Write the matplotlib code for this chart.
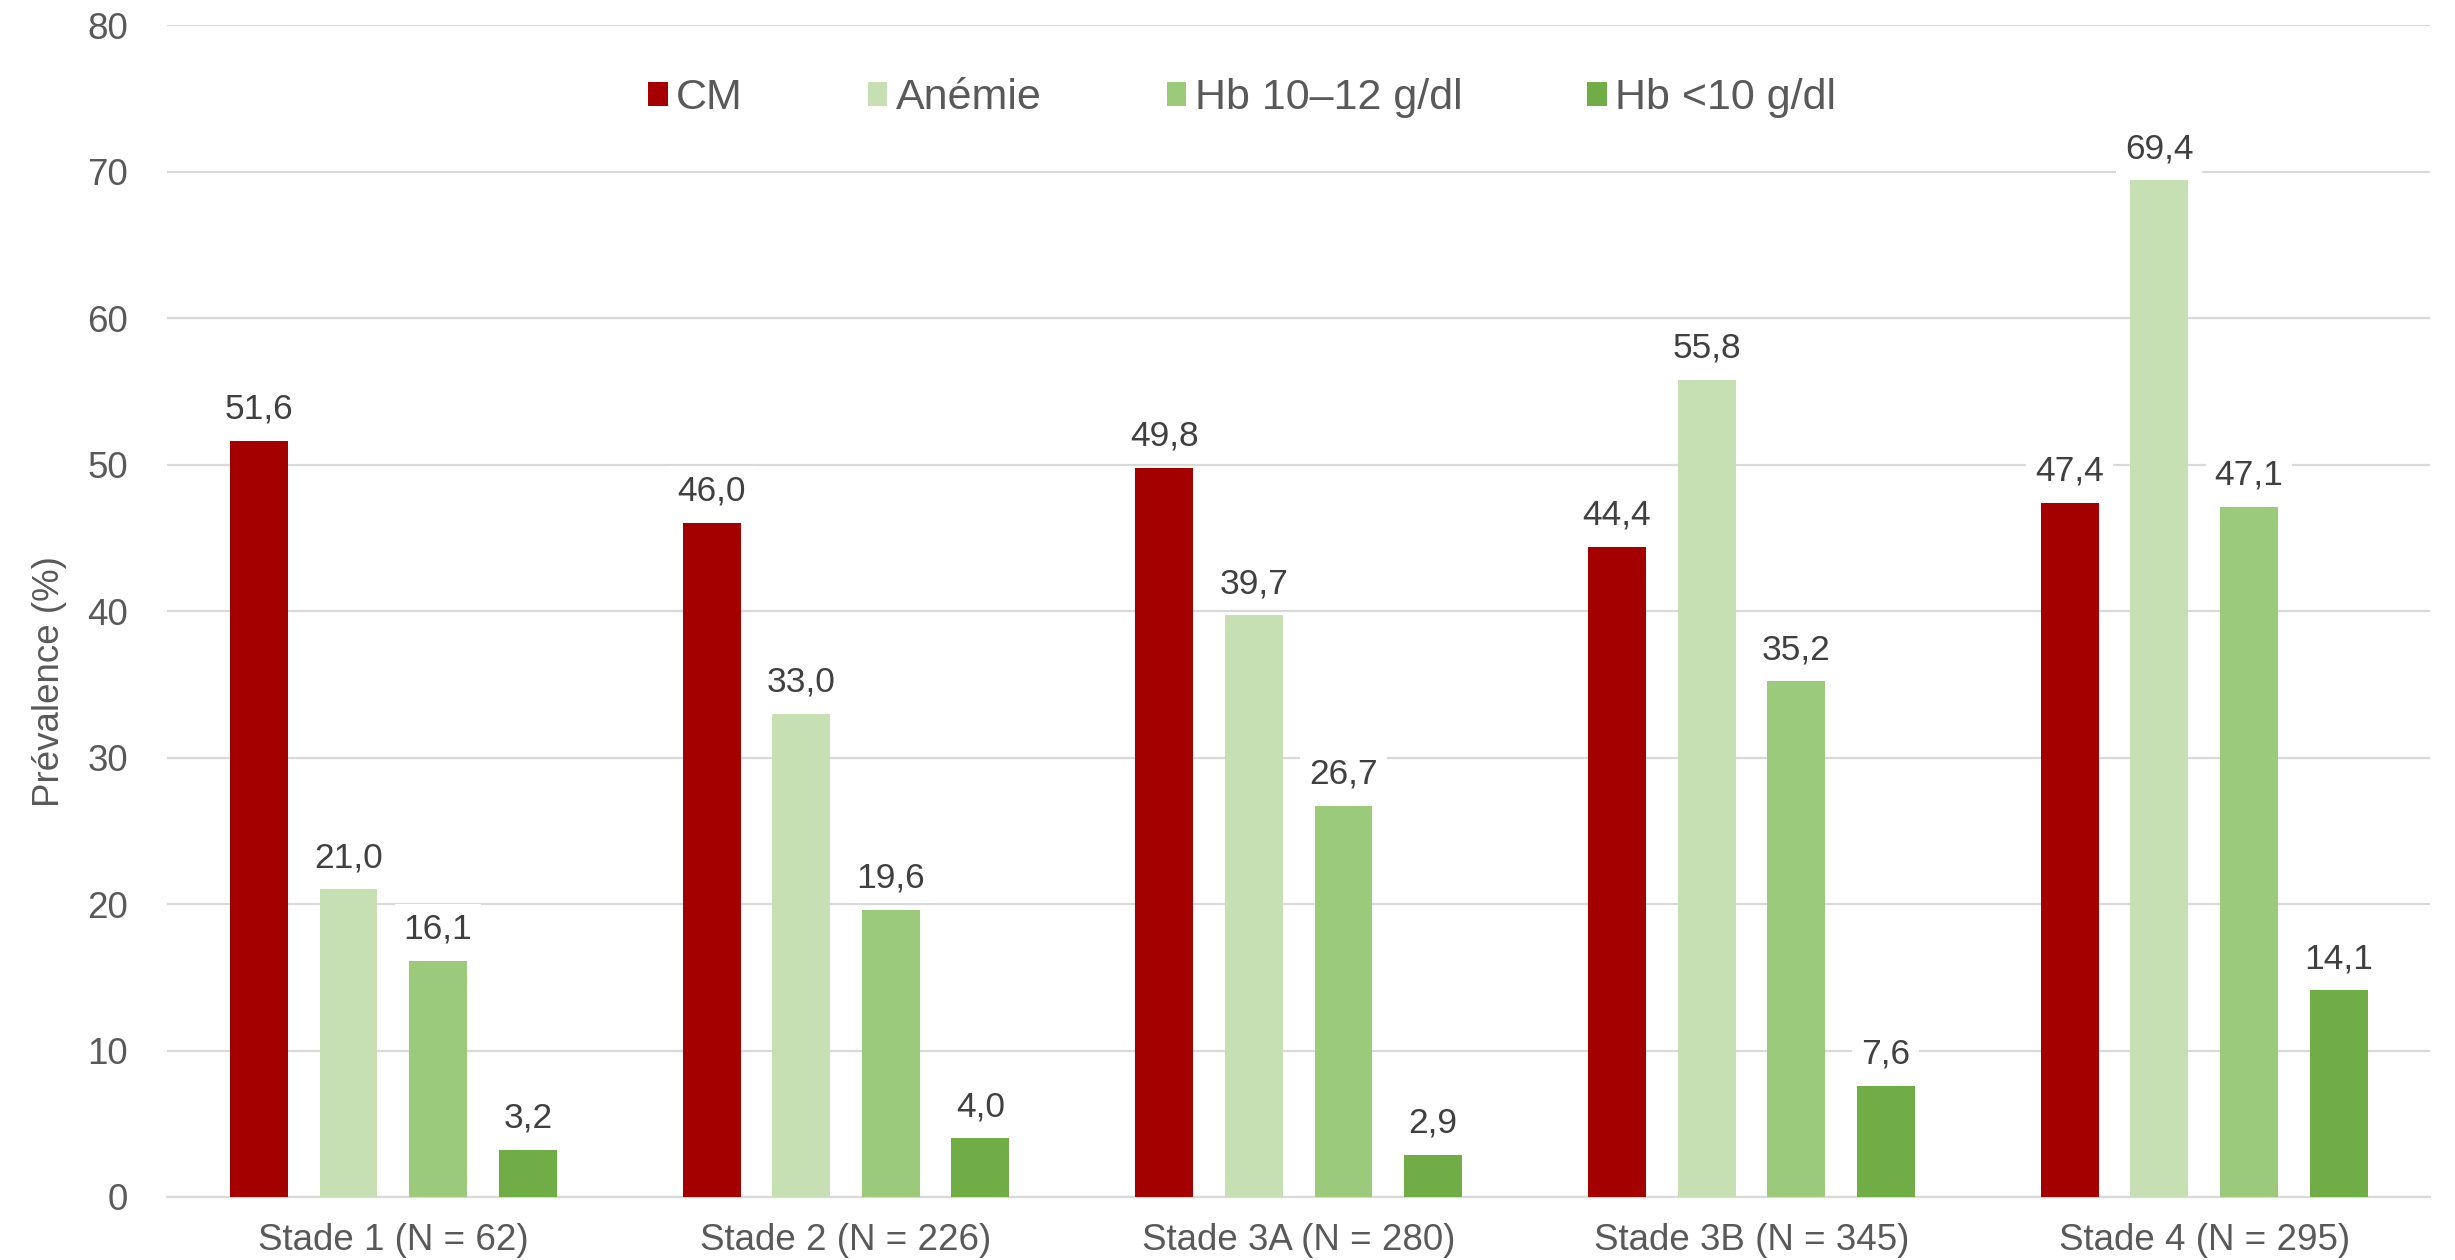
import matplotlib.pyplot as plt
import numpy as np

plt.rcParams['font.family'] = ['Liberation Sans', 'DejaVu Sans']

stades = ['Stade 1 (N = 62)', 'Stade 2 (N = 226)', 'Stade 3A (N = 280)',
          'Stade 3B (N = 345)', 'Stade 4 (N = 295)']
series = ['CM', 'Anémie', 'Hb 10–12 g/dl', 'Hb <10 g/dl']
cm = [51.6, 46.0, 49.8, 44.4, 47.4]
anemie = [21.0, 33.0, 39.7, 55.8, 69.4]
hb_10_12 = [16.1, 19.6, 26.7, 35.2, 47.1]
hb_lt10 = [3.2, 4.0, 2.9, 7.6, 14.1]
colors = ['#A50000', '#C6E0B4', '#9CCA7B', '#70AD47']

fig = plt.figure(figsize=(24.55, 12.6), dpi=100)
ax = fig.add_axes([0.068, 0.05, 0.922, 0.93])

x = np.arange(len(stades))
step = 0.198
width = 0.128
for i, (name, vals, col) in enumerate(zip(series, [cm, anemie, hb_10_12, hb_lt10], colors)):
    pos = x + (i - 1.5) * step
    bars = ax.bar(pos, vals, width, color=col, label=name, zorder=3)
    for b, v in zip(bars, vals):
        ax.annotate(f'{v:.1f}'.replace('.', ','),
                    (b.get_x() + b.get_width() / 2, v),
                    xytext=(0, 11), textcoords='offset points',
                    ha='center', va='bottom', fontsize=25.5, color='#404040', zorder=4,
                    bbox=dict(boxstyle='square,pad=0.25', fc='white', ec='none'))

ax.set_xlim(-0.5, 4.5)
ax.set_ylim(0, 80)
ax.set_yticks(np.arange(0, 81, 10))
ax.set_xticks(x)
ax.set_xticklabels(stades)
ax.tick_params(axis='both', length=0, labelsize=26.5, labelcolor='#595959')
ax.tick_params(axis='y', pad=28)
ax.tick_params(axis='x', pad=19)
ax.grid(axis='y', color='#D9D9D9', linewidth=1.6, zorder=0)
for s in ['top', 'right', 'left']:
    ax.spines[s].set_visible(False)
ax.spines['bottom'].set_color('#D9D9D9')
ax.spines['bottom'].set_linewidth(1.6)
ax.set_ylabel('Prévalence (%)', fontsize=26.5, color='#595959', labelpad=14)
ax.yaxis.set_label_coords(-0.044, 0.44)

fig.legend(loc='center', bbox_to_anchor=(0.506, 0.922), ncol=4, frameon=False,
           fontsize=31, labelcolor='#595959', handlelength=0.45, handleheight=0.45,
           handletextpad=0.2, columnspacing=2.9)

fig.savefig('out.png', dpi=100)
